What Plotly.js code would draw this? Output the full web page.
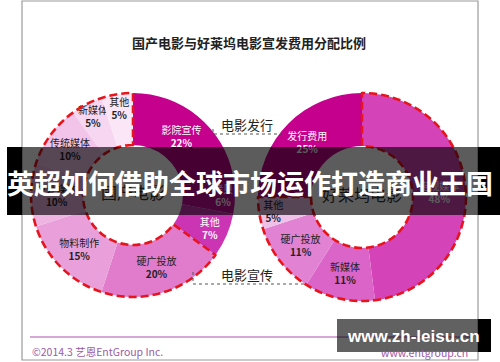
<!DOCTYPE html>
<html>
<head>
<meta charset="utf-8">
<script src="https://cdn.plot.ly/plotly-3.0.1.min.js"></script>
<style>html,body{margin:0;padding:0;background:#fff;}#chart{width:500px;height:362px;}</style>
</head>
<body>
<div id="chart"></div>
<script>
// ---- data ----
const leftKeys   = ['影院宣传','拷贝','其他A','硬广投放','物料制作','户外媒体','传统媒体','新媒体','其他B'];
const leftNames  = ['影院宣传','拷贝','其他','硬广投放','物料制作','户外媒体','传统媒体','新媒体','其他'];
const leftValues = [22, 6, 7, 20, 15, 10, 10, 5, 5];
const leftGroups = ['电影发行','电影发行','电影发行','电影宣传','电影宣传','电影宣传','电影宣传','电影宣传','电影宣传'];

const rightKeys   = ['电视媒体','新媒体','硬广投放','其他','发行费用'];
const rightNames  = ['电视媒体','新媒体','硬广投放','其他','发行费用'];
const rightValues = [48, 11, 11, 5, 25];
const rightGroups = ['电影宣传','电影宣传','电影宣传','电影宣传','电影发行'];

const chartTitle = '国产电影与好莱坞电影宣发费用分配比例';
const leftCenter = '国产电影';
const rightCenter = '好莱坞电影';
const bannerText = '英超如何借助全球市场运作打造商业王国';

// ---- styles ----
const leftColors  = ['#C4008C','#C5109A','#CB35B4','#E17BCB','#E9A0DA','#EEB4E2','#F2C4EA','#F6D6F0','#FAE6F6'];
const leftText    = ['#fff','#fff','#fff','#222','#222','#222','#222','#222','#222'];
const rightColors = ['#D443B8','#DB64C8','#E183D2','#EFC0E8','#C4008C'];
const rightText   = ['#fff','#222','#222','#222','#fff'];

const FONT = '"Noto Sans CJK SC", "Noto Sans", sans-serif';

function groupSums(groups, values) {
  const order = [], sums = {};
  groups.forEach((g, i) => { if (!(g in sums)) { sums[g] = 0; order.push(g); } sums[g] += values[i]; });
  return {labels: order, values: order.map(g => sums[g])};
}
const lg = groupSums(leftGroups, leftValues);
const rg = groupSums(rightGroups, rightValues);

const domL = {x: [0.062, 0.470], y: [0.1796, 0.7431]};
const domR = {x: [0.516, 0.932], y: [0.1685, 0.7431]};

function donut(keys, names, values, colors, tcolors, dom, center) {
  return {
    type: 'pie', labels: keys, values: values, text: names, sort: false,
    direction: 'clockwise', rotation: 0, hole: 0.49, domain: dom,
    marker: {colors: colors, line: {width: 0}},
    texttemplate: '%{text}<br><b>%{value}%</b>', textposition: 'inside',
    insidetextorientation: 'horizontal',
    insidetextfont: {family: FONT, size: 10, color: tcolors},
    hoverinfo: 'none',
    title: {text: center, position: 'middle center', font: {family: FONT, size: 16, color: '#333'}}
  };
}
function outline(g, dom, dashedGroup) {
  return {
    type: 'pie', labels: g.labels, values: g.values, sort: false,
    direction: 'clockwise', rotation: 0, hole: 0.49, domain: dom,
    marker: {colors: g.labels.map(() => 'rgba(0,0,0,0)'),
             line: {color: g.labels.map(l => l === dashedGroup ? '#E8141C' : 'rgba(0,0,0,0)'),
                    width: g.labels.map(l => l === dashedGroup ? 2.6 : 0)}},
    textinfo: 'none', hoverinfo: 'none'
  };
}

const data = [
  donut(leftKeys, leftNames, leftValues, leftColors, leftText, domL, leftCenter),
  donut(rightKeys, rightNames, rightValues, rightColors, rightText, domR, rightCenter),
  outline(lg, domL, '电影宣传'),
  outline(rg, domR, '电影宣传')
];

const W = 500, H = 362;
const px = x => x / W, py = y => 1 - y / H;

const shapes = [
  // frame
  {type: 'rect', xref: 'paper', yref: 'paper', x0: px(22), x1: px(478), y0: py(1), y1: py(360), line: {color: '#9a9a9a', width: 1.2}},
  // 电影发行 leader
  {type: 'path', xref: 'paper', yref: 'paper', path: `M ${px(213)} ${py(129)} L ${px(213)} ${py(134)} L ${px(281)} ${py(134)}`, line: {color: '#555', width: 1, dash: 'dot'}},
  // 电影宣传 leader
  {type: 'path', xref: 'paper', yref: 'paper', path: `M ${px(193)} ${py(272)} L ${px(193)} ${py(284)} L ${px(304)} ${py(284)}`, line: {color: '#555', width: 1, dash: 'dot'}},
  // footer line
  {type: 'line', xref: 'paper', yref: 'paper', x0: px(30), x1: px(470), y0: py(337), y1: py(337), line: {color: '#C78BC9', width: 1.5}},
  // banner
  {type: 'rect', xref: 'paper', yref: 'paper', layer: 'above', x0: px(22), x1: px(478), y0: py(147), y1: py(215), fillcolor: 'rgba(0,0,0,0.64)', line: {width: 0}},
  {type: 'rect', xref: 'paper', yref: 'paper', layer: 'above', x0: px(7), x1: px(22), y0: py(147), y1: py(215), fillcolor: '#000', line: {width: 0}},
  {type: 'rect', xref: 'paper', yref: 'paper', layer: 'above', x0: px(478), x1: px(500), y0: py(147), y1: py(215), fillcolor: '#000', line: {width: 0}},
  // watermark box
  {type: 'rect', xref: 'paper', yref: 'paper', layer: 'above', x0: px(337), x1: px(478), y0: py(319), y1: py(352), fillcolor: 'rgba(0,0,0,0.62)', line: {width: 0}},
  {type: 'rect', xref: 'paper', yref: 'paper', layer: 'above', x0: px(478), x1: px(491), y0: py(319), y1: py(352), fillcolor: '#000', line: {width: 0}}
];

const ann = (text, x, y, size, color, opts) => Object.assign({
  text: text, xref: 'paper', yref: 'paper', x: px(x), y: py(y), showarrow: false,
  xanchor: 'center', yanchor: 'middle', font: {family: FONT, size: size, color: color}
}, opts || {});

const annotations = [
  ann('<b>' + chartTitle + '</b>', 249, 43, 13, '#222'),
  ann('电影发行', 247, 124, 13, '#222'),
  ann('电影宣传', 247, 274, 13, '#222'),
  ann('©2014.3 艺恩EntGroup Inc.', 30, 351, 10.5, '#9B5AA8', {xanchor: 'left'}),
  ann('www.entgroup.cn', 470, 352, 10.5, '#9B5AA8', {xanchor: 'right'}),
  ann('<b>' + bannerText + '</b>', 250, 182, 27, '#fff'),
  ann('<b>www.zh-leisu.cn</b>', 413, 336, 17, '#fff', {font: {family: '"Liberation Sans", Arial, sans-serif', size: 17, color: '#fff'}})
];

const layout = {
  width: W, height: H, margin: {l: 0, r: 0, t: 0, b: 0},
  paper_bgcolor: '#fff', showlegend: false,
  uniformtext: {minsize: 10, mode: 'show'},
  shapes: shapes, annotations: annotations
};

Plotly.newPlot('chart', data, layout, {staticPlot: true, displayModeBar: false}).then(() => {
  const traces = document.querySelectorAll('.pielayer .trace');
  traces.forEach((tr, i) => {
    if (i >= 2) tr.querySelectorAll('path.surface').forEach(p => { p.style.strokeDasharray = '8,4'; });
  });
});
</script>
</body>
</html>
